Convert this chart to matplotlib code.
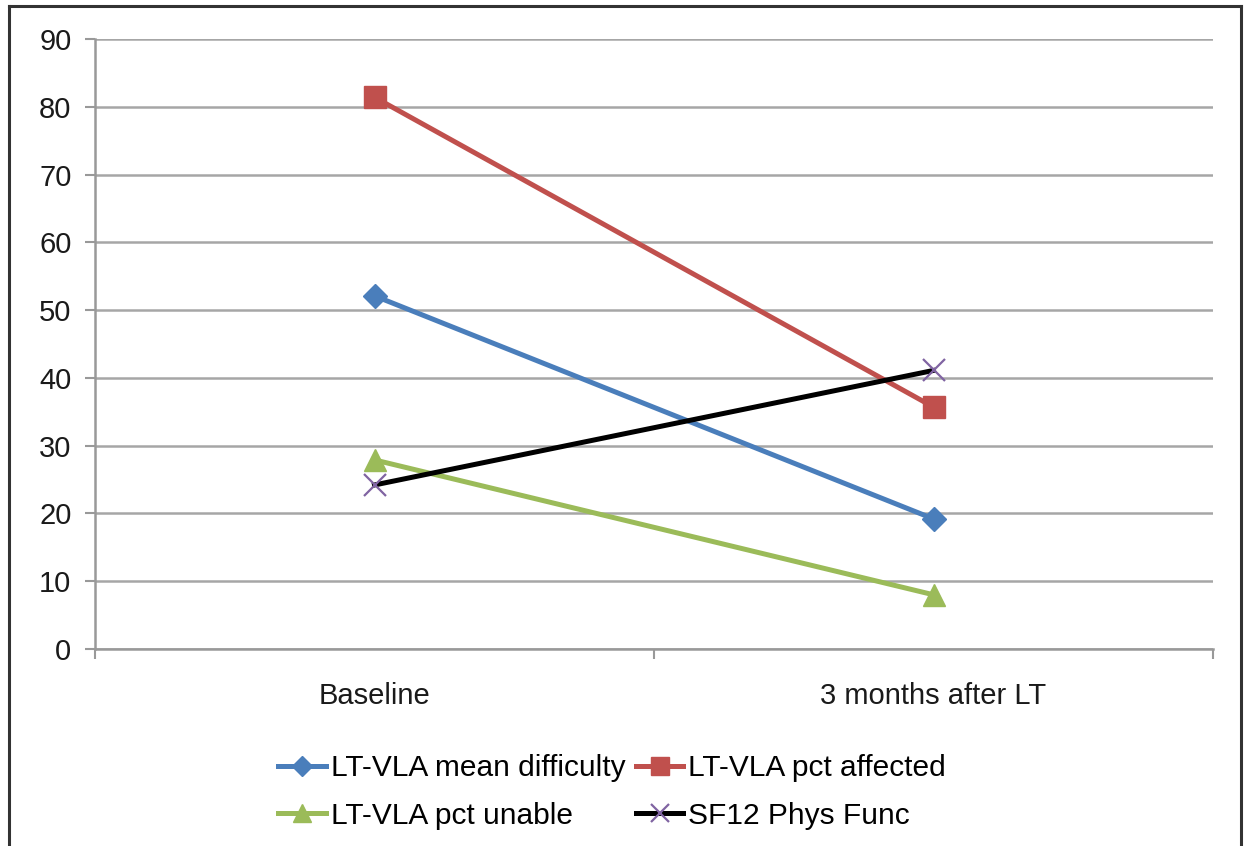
import matplotlib
matplotlib.use('Agg')
import matplotlib.pyplot as plt
from matplotlib.lines import Line2D

# values
timepoints = ['Baseline', '3 months after LT']
mean_difficulty = [52.1, 19.2]
pct_affected = [81.4, 35.7]
pct_unable = [27.9, 8.0]
sf12_phys_func = [24.2, 41.1]
yticks = [0, 10, 20, 30, 40, 50, 60, 70, 80, 90]

plt.rcParams['font.family'] = ['Liberation Sans', 'DejaVu Sans']

fig = plt.figure(figsize=(12.51, 8.46), dpi=100)
ax = fig.add_axes([95 / 1251, 1 - 649 / 846, 1118 / 1251, 610 / 846])

x = list(range(len(timepoints)))
l_diff, = ax.plot(x, mean_difficulty, color='#4A7EBB', lw=3.6, marker='D', ms=12,
                  label='LT-VLA mean difficulty', zorder=3)
l_aff, = ax.plot(x, pct_affected, color='#C0504D', lw=3.6, marker='s', ms=16,
                 label='LT-VLA pct affected', zorder=3)
l_unab, = ax.plot(x, pct_unable, color='#9BBB59', lw=3.6, marker='^', ms=16,
                  label='LT-VLA pct unable', zorder=3)
l_sf, = ax.plot(x, sf12_phys_func, color='black', lw=3.6, marker='x', ms=16,
                mec='#8064A2', mew=1.6, label='SF12 Phys Func', zorder=4)

ax.set_xlim(-0.5, 1.5)
ax.set_ylim(0, 90)
ax.set_yticks(yticks)
ax.set_xticks(x)
ax.set_xticklabels(timepoints)
ax.set_xticks([-0.5, 0.5, 1.5], minor=True)
ax.tick_params(axis='x', which='major', length=0, pad=24, labelsize=21, labelcolor='#1a1a1a')
ax.tick_params(axis='x', which='minor', length=7, width=1.5, color='#999999', direction='out')
ax.tick_params(axis='y', length=7, width=1.5, color='#999999', pad=10, labelsize=21,
               labelcolor='#1a1a1a')

ax.grid(axis='y', color='#A6A6A6', lw=1.8)
ax.set_axisbelow(True)
for side in ['top', 'right']:
    ax.spines[side].set_visible(False)
for side in ['left', 'bottom']:
    ax.spines[side].set_color('#999999')
    ax.spines[side].set_linewidth(1.8)

# legend fills column-wise, so order handles to get rows: blue/red, green/black
handles = [l_diff, l_unab, l_aff, l_sf]
fig.legend(handles, [h.get_label() for h in handles], loc='center',
           bbox_to_anchor=(612 / 1251, 1 - 792 / 846), ncol=2,
           frameon=False, fontsize=21.5, handlelength=1.6, handletextpad=0.15,
           columnspacing=0.35, labelspacing=0.65, borderaxespad=0,
           markerscale=0.85)

# outer chart border (bottom edge is cut off in the original)
border = dict(color='#333333', lw=2.2, transform=fig.transFigure)
fig.add_artist(Line2D([9 / 1251, 9 / 1251], [0, 1 - 6 / 846], **border))
fig.add_artist(Line2D([9 / 1251, 1241 / 1251], [1 - 6 / 846, 1 - 6 / 846], **border))
fig.add_artist(Line2D([1241 / 1251, 1241 / 1251], [0, 1 - 6 / 846], **border))

fig.savefig('out.png', dpi=100)
plt.close(fig)
